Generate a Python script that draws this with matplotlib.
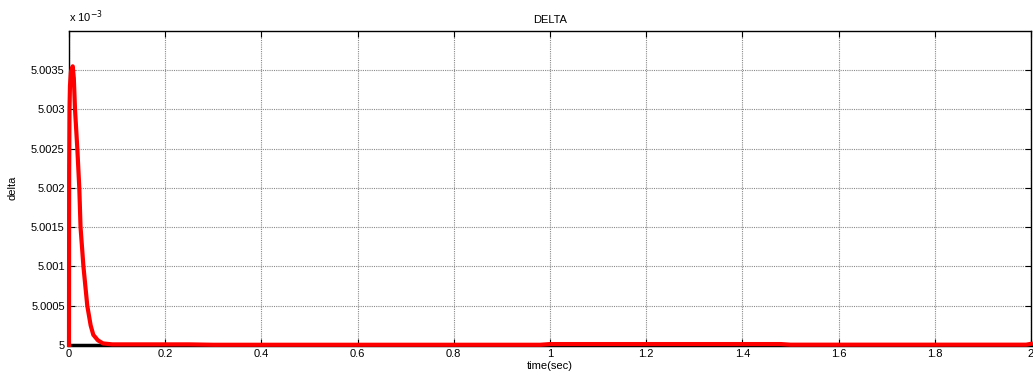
import numpy as np
import matplotlib.pyplot as plt

plt.rcParams['font.family'] = ['Liberation Sans', 'DejaVu Sans']

# delta in units of 1e-3
t = [0.0, 0.0003, 0.001, 0.002, 0.004, 0.0077, 0.010, 0.0125, 0.0173, 0.0214,
     0.024, 0.030, 0.038, 0.045, 0.0505, 0.060, 0.0707, 0.09, 0.25, 0.30,
     0.98, 1.0, 1.48, 1.50, 1.99, 2.0]
delta = [5.0, 5.0022, 5.0030, 5.0033, 5.00348, 5.00355, 5.0034, 5.0030, 5.0025, 5.0020,
         5.0015, 5.0010, 5.0005, 5.00025, 5.00013, 5.00006, 5.00002, 5.000008, 5.000008, 5.000003,
         5.000003, 5.000012, 5.000012, 5.000004, 5.000004, 5.000015]
ref_t = [0.0, 2.0]
ref_delta = [5.0, 5.0]

xticks = [0, 0.2, 0.4, 0.6, 0.8, 1.0, 1.2, 1.4, 1.6, 1.8, 2.0]
xtick_labels = ['0', '0.2', '0.4', '0.6', '0.8', '1', '1.2', '1.4', '1.6', '1.8', '2']
yticks = [5.0, 5.0005, 5.001, 5.0015, 5.002, 5.0025, 5.003, 5.0035]
ytick_labels = ['5', '5.0005', '5.001', '5.0015', '5.002', '5.0025', '5.003', '5.0035']

fig = plt.figure(figsize=(10.33, 3.78), dpi=100)
ax = fig.add_axes([0.0668, 0.0873, 0.9312, 0.8307])

ax.plot(ref_t, ref_delta, color='black', lw=2.5, clip_on=False)
ax.plot(t, delta, color='red', lw=3, clip_on=False, zorder=3)

ax.set_xlim(0, 2)
ax.set_ylim(5.0, 5.004)
ax.set_xticks(xticks)
ax.set_xticklabels(xtick_labels)
ax.set_yticks(yticks)
ax.set_yticklabels(ytick_labels)
ax.tick_params(direction='in', length=4, width=0.8, top=True, right=True,
               labelsize=8, colors='black', pad=3)
ax.grid(True, color='#8a8a8a', linestyle=(0, (1, 1)), lw=0.8)
for s in ax.spines.values():
    s.set_linewidth(1)

ax.set_title('DELTA', fontsize=8, pad=6)
ax.set_xlabel('time(sec)', fontsize=8, labelpad=1)
ax.set_ylabel('delta', fontsize=8, labelpad=10)
ax.text(0, 1.02, r'x 10$^{-3}$', transform=ax.transAxes, fontsize=8,
        ha='left', va='bottom')

fig.savefig('out.png', dpi=100)
